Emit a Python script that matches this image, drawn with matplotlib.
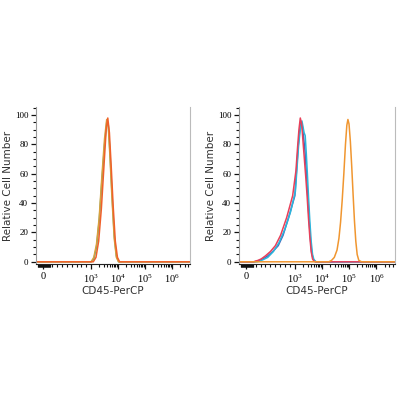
import numpy as np
import matplotlib.pyplot as plt
from matplotlib.ticker import FixedLocator, FixedFormatter

# histogram outlines, x in log10(intensity), y in % of max
l_teal_x = [3.0, 3.1, 3.2, 3.3, 3.4, 3.5, 3.58, 3.64, 3.7, 3.78, 3.86, 3.94, 4.02]
l_teal_y = [0, 2, 10, 28, 55, 80, 95, 93, 75, 45, 18, 4, 0]
l_olive_x = [3.0, 3.1, 3.2, 3.3, 3.4, 3.5, 3.58, 3.64, 3.7, 3.78, 3.86, 3.94, 4.02]
l_olive_y = [0, 3, 12, 30, 58, 84, 97, 92, 72, 42, 16, 3, 0]
l_red_x = [3.08, 3.18, 3.28, 3.38, 3.48, 3.56, 3.62, 3.68, 3.75, 3.82, 3.9, 3.98, 4.06]
l_red_y = [0, 3, 14, 36, 66, 90, 98, 88, 64, 38, 14, 3, 0]

r_red_x = [2.2, 2.3, 2.4, 2.5, 2.6, 2.7, 2.78, 2.85, 2.92, 2.98, 3.04, 3.1, 3.15,
           3.2, 3.25, 3.3, 3.35, 3.4, 3.45, 3.5, 3.55, 3.6, 3.65, 3.7, 3.75]
r_red_y = [0, 0.5, 1, 2, 4, 7, 11, 18, 30, 45, 62, 78, 90,
           98, 94, 82, 70, 58, 45, 30, 17, 7, 2, 0.5, 0]
r_blue_x = [2.25, 2.35, 2.45, 2.55, 2.65, 2.74, 2.82, 2.88, 2.94, 3.0, 3.06, 3.12, 3.17,
            3.22, 3.27, 3.32, 3.37, 3.42, 3.47, 3.52, 3.57, 3.62, 3.67, 3.72, 3.77]
r_blue_y = [0, 0.5, 1, 2, 4, 7, 11, 18, 30, 45, 62, 78, 88,
            95, 93, 85, 76, 62, 46, 30, 16, 6, 2, 0.5, 0]
r_cyan_x = [2.35, 2.45, 2.55, 2.65, 2.75, 2.83, 2.9, 2.96, 3.02, 3.08, 3.14, 3.2,
            3.26, 3.3, 3.34, 3.38, 3.42, 3.46, 3.5, 3.55, 3.6, 3.65, 3.7, 3.78]
r_cyan_y = [0, 0.5, 1.5, 3, 7, 13, 22, 34, 48, 64, 80, 90,
            96, 92, 88, 86, 74, 60, 45, 28, 14, 5, 1.5, 0]
r_orange_x = [4.25, 4.35, 4.45, 4.55, 4.62, 4.68, 4.74, 4.8, 4.86, 4.91, 4.95,
              4.99, 5.04, 5.09, 5.14, 5.19, 5.24, 5.29, 5.35, 5.45]
r_orange_y = [0, 1, 3, 8, 16, 27, 42, 60, 80, 93, 97,
              94, 82, 65, 46, 28, 14, 5, 1, 0]

x_major = [0, 1e3, 1e4, 1e5, 1e6]
x_major_labels = ["0", "$\\mathregular{10^3}$", "$\\mathregular{10^4}$",
                  "$\\mathregular{10^5}$", "$\\mathregular{10^6}$"]
y_major = [0, 20, 40, 60, 80, 100]

XMIN, XMAX = -140, 10 ** 6.68

panels = [
    [(l_teal_x, l_teal_y, "#3fb59c"), (l_olive_x, l_olive_y, "#d9a03c"),
     (l_red_x, l_red_y, "#f0602a")],
    [(r_blue_x, r_blue_y, "#4a62b8"), (r_cyan_x, r_cyan_y, "#2ab6dc"),
     (r_red_x, r_red_y, "#e8405a"), (r_orange_x, r_orange_y, "#f09630")],
]

minor = list(np.arange(-100, 151, 10)) + list(np.arange(200, 1000, 100))
for d in range(3, 7):
    minor += [k * 10 ** d for k in range(2, 10)]

fig = plt.figure(figsize=(4, 4), dpi=100)
rects = [[0.09, 0.34, 0.385, 0.3925], [0.5975, 0.34, 0.39, 0.3925]]

for rect, curves in zip(rects, panels):
    ax = fig.add_axes(rect)
    ax.set_xscale("symlog", linthresh=1000, linscale=1.62)
    for xs, ys, c in curves:
        x = np.r_[XMIN, 10 ** np.array(xs), XMAX]
        y = np.r_[0, ys, 0]
        ax.plot(x, y, color=c, lw=1.1)
    ax.set_xlim(XMIN, XMAX)
    ax.set_ylim(-1.5, 105.5)

    ax.xaxis.set_major_locator(FixedLocator(x_major))
    ax.xaxis.set_major_formatter(FixedFormatter(x_major_labels))
    ax.xaxis.set_minor_locator(FixedLocator(minor))
    ax.set_yticks(y_major)
    ax.set_yticks(np.arange(0, 106, 5), minor=True)

    for lab in ax.get_xticklabels():
        lab.set_fontfamily("Liberation Serif")
        lab.set_fontsize(7.5)
    for lab in ax.get_yticklabels():
        lab.set_fontfamily("Liberation Serif")
        lab.set_fontsize(6.5)
    ax.tick_params(which="major", length=3.5, width=0.9, color="#111111", pad=2)
    ax.tick_params(which="minor", length=2.2, width=0.8, color="#111111")
    ax.tick_params(axis="x", pad=2.5)

    ax.spines["top"].set_visible(False)
    ax.spines["right"].set_color("#bbbbbb")
    ax.spines["left"].set_color("#999999")
    ax.spines["bottom"].set_color("#222222")

    ax.set_xlabel("CD45-PerCP", fontsize=7.5, color="#333333", labelpad=1)
    ax.set_ylabel("Relative Cell Number", fontsize=7.5, color="#333333", labelpad=1)

fig.savefig("out.png", dpi=100)
